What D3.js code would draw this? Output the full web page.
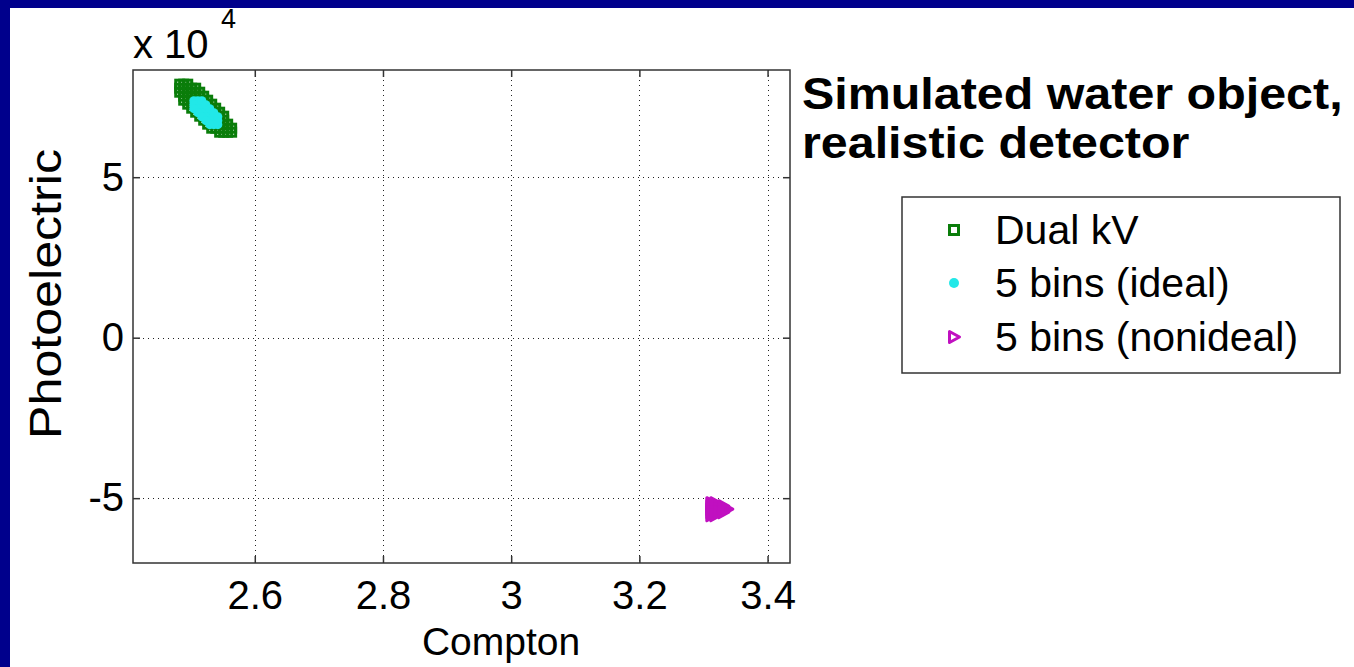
<!DOCTYPE html>
<html>
<head>
<meta charset="utf-8">
<script src="https://cdn.jsdelivr.net/npm/d3@7/dist/d3.min.js"></script>
<style>
  html, body { margin: 0; padding: 0; background: #fff; }
  svg { display: block; }
  text { font-family: "Liberation Sans", Arial, Helvetica, sans-serif; fill: #000; }
</style>
</head>
<body>
<svg id="chart" width="1354" height="667"></svg>
<script>
// Material decomposition estimates: [Compton, Photoelectric (x 10^4)]
const dualKV = [
  [2.4829, 7.898], [2.4891, 7.773], [2.4954, 7.648], [2.5016, 7.524], [2.5078, 7.399], [2.5141, 7.275], [2.5203, 7.15],
  [2.5265, 7.025], [2.5328, 6.901], [2.539, 6.776], [2.5452, 6.652], [2.5515, 6.527], [2.5577, 6.402],
  [2.4891, 7.898], [2.4954, 7.773], [2.5016, 7.648], [2.5078, 7.524], [2.5141, 7.399], [2.5203, 7.275],
  [2.5265, 7.15], [2.5328, 7.025], [2.539, 6.901], [2.5452, 6.776], [2.5515, 6.652], [2.5577, 6.527],
  [2.4829, 7.773], [2.4891, 7.648], [2.4954, 7.524], [2.5016, 7.399], [2.5078, 7.275], [2.5141, 7.15],
  [2.5203, 7.025], [2.5265, 6.901], [2.5328, 6.776], [2.539, 6.652], [2.5452, 6.527], [2.5515, 6.402],
  [2.4954, 7.898], [2.5016, 7.773], [2.5078, 7.648], [2.5141, 7.524], [2.5203, 7.399], [2.5265, 7.275],
  [2.5328, 7.15], [2.539, 7.025], [2.5452, 6.901], [2.5515, 6.776], [2.5577, 6.652],
  [2.4829, 7.648], [2.4891, 7.524], [2.4954, 7.399], [2.5016, 7.275], [2.5078, 7.15], [2.5141, 7.025],
  [2.5203, 6.901], [2.5265, 6.776], [2.5328, 6.652], [2.539, 6.527], [2.5452, 6.402],
  [2.5078, 7.773], [2.5141, 7.648], [2.5203, 7.524], [2.5265, 7.399], [2.5328, 7.275], [2.539, 7.15],
  [2.5452, 7.025], [2.5515, 6.901],
  [2.4891, 7.399], [2.4954, 7.275], [2.5016, 7.15], [2.5078, 7.025], [2.5141, 6.901], [2.5203, 6.776],
  [2.5265, 6.652], [2.5328, 6.527],
  [2.5639, 6.527], [2.5639, 6.402]
];
const binsIdeal = [
  [2.5049, 7.384], [2.5111, 7.259], [2.5174, 7.135], [2.5236, 7.01], [2.5298, 6.885], [2.5361, 6.761], [2.5423, 6.636],
  [2.5111, 7.384], [2.5174, 7.259], [2.5236, 7.135], [2.5298, 7.01], [2.5361, 6.885], [2.5423, 6.761],
  [2.5049, 7.259], [2.5111, 7.135], [2.5174, 7.01], [2.5236, 6.885], [2.5298, 6.761], [2.5361, 6.636],
  [2.5174, 7.384], [2.5236, 7.259], [2.5298, 7.135], [2.5361, 7.01], [2.5423, 6.885],
  [2.5049, 7.135], [2.5111, 7.01], [2.5174, 6.885], [2.5236, 6.761], [2.5298, 6.636]
];
const binsNonideal = [
  [3.3122, -5.156], [3.3122, -5.249], [3.3122, -5.343], [3.3122, -5.436], [3.3122, -5.530],
  [3.3184, -5.156], [3.3184, -5.249], [3.3184, -5.343], [3.3184, -5.436], [3.3184, -5.530],
  [3.3246, -5.249], [3.3246, -5.343], [3.3246, -5.436],
  [3.3309, -5.249], [3.3309, -5.343], [3.3309, -5.436],
  [3.3371, -5.343]
];
const seriesNames = ["Dual kV", "5 bins (ideal)", "5 bins (nonideal)"];
const xTicks = [2.6, 2.8, 3.0, 3.2, 3.4];
const xTickLabels = ["2.6", "2.8", "3", "3.2", "3.4"];
const yTicks = [-5, 0, 5];
const yTickLabels = ["-5", "0", "5"];
const xDomain = [2.41, 3.435];
const yDomain = [-7.02, 8.34];

const svg = d3.select("#chart");
const W = 1354, H = 667;
const plot = { left: 133, right: 790, top: 70, bottom: 563 };

// slide frame
svg.append("rect").attr("x", 0).attr("y", 0).attr("width", W).attr("height", 8).attr("fill", "#00008c");
svg.append("rect").attr("x", 0).attr("y", 0).attr("width", 10).attr("height", H).attr("fill", "#00008c");

const x = d3.scaleLinear().domain(xDomain).range([plot.left, plot.right]);
const y = d3.scaleLinear().domain(yDomain).range([plot.bottom, plot.top]);

const colors = { green: "#0a7d0a", cyan: "#22e8e8", magenta: "#c010c0" };

// dotted grid
const grid = svg.append("g").attr("stroke", "#222").attr("stroke-width", 1).attr("stroke-dasharray", "1,4");
grid.selectAll("line.vx").data(xTicks).join("line")
  .attr("x1", d => Math.round(x(d)) + 0.5).attr("x2", d => Math.round(x(d)) + 0.5)
  .attr("y1", plot.top).attr("y2", plot.bottom);
grid.selectAll("line.hy").data(yTicks).join("line")
  .attr("y1", d => Math.round(y(d)) + 0.5).attr("y2", d => Math.round(y(d)) + 0.5)
  .attr("x1", plot.left).attr("x2", plot.right);

// axes with inward ticks on all four sides
const axB = d3.axisBottom(x).tickValues(xTicks).tickFormat((d, i) => xTickLabels[i]).tickSizeInner(-7).tickSizeOuter(0).tickPadding(18);
const axT = d3.axisTop(x).tickValues(xTicks).tickFormat("").tickSizeInner(-7).tickSizeOuter(0);
const axL = d3.axisLeft(y).tickValues(yTicks).tickFormat((d, i) => yTickLabels[i]).tickSizeInner(-7).tickSizeOuter(0).tickPadding(9);
const axR = d3.axisRight(y).tickValues(yTicks).tickFormat("").tickSizeInner(-7).tickSizeOuter(0);

function styleAxis(g) {
  g.select(".domain").remove();
  g.selectAll(".tick line").attr("stroke", "#333").attr("stroke-width", 1.5);
  g.selectAll(".tick text").attr("font-size", 40).attr("font-family", "Liberation Sans, Arial, sans-serif").attr("fill", "#000");
}
svg.append("g").attr("transform", `translate(0,${plot.bottom})`).call(axB).call(styleAxis);
svg.append("g").attr("transform", `translate(0,${plot.top})`).call(axT).call(styleAxis);
svg.append("g").attr("transform", `translate(${plot.left},0)`).call(axL).call(styleAxis);
svg.append("g").attr("transform", `translate(${plot.right},0)`).call(axR).call(styleAxis);

// axes box
svg.append("rect").attr("x", plot.left).attr("y", plot.top)
  .attr("width", plot.right - plot.left).attr("height", plot.bottom - plot.top)
  .attr("fill", "none").attr("stroke", "#333").attr("stroke-width", 1.5);

// markers
const sq = 8;
const triPath = s => `M${-s * 0.45},${-s * 0.55} L${s * 0.55},0 L${-s * 0.45},${s * 0.55} Z`;

svg.append("g").selectAll("rect").data(dualKV).join("rect")
  .attr("x", d => x(d[0]) - sq / 2).attr("y", d => y(d[1]) - sq / 2)
  .attr("width", sq).attr("height", sq)
  .attr("fill", "none").attr("stroke", colors.green).attr("stroke-width", 3);

svg.append("g").selectAll("circle").data(binsIdeal).join("circle")
  .attr("cx", d => x(d[0])).attr("cy", d => y(d[1])).attr("r", 4.5)
  .attr("fill", colors.cyan);

svg.append("g").selectAll("path").data(binsNonideal).join("path")
  .attr("transform", d => `translate(${x(d[0])},${y(d[1])})`)
  .attr("d", triPath(10))
  .attr("fill", "none").attr("stroke", colors.magenta).attr("stroke-width", 3).attr("stroke-linejoin", "round");

// exponent label
svg.append("text").attr("x", plot.left).attr("y", 58).attr("font-size", 40).text("x 10");
svg.append("text").attr("x", 221).attr("y", 28).attr("font-size", 27).text("4");

// axis titles
svg.append("text").attr("x", 501).attr("y", 655)
  .attr("text-anchor", "middle").attr("font-size", 39).text("Compton");
svg.append("text").attr("transform", `translate(61,294) rotate(-90) scale(1.14,1)`)
  .attr("text-anchor", "middle").attr("font-size", 44).text("Photoelectric");

// title (two lines, slightly widened bold face)
const titleLines = ["Simulated water object,", "realistic detector"];
svg.append("g").attr("transform", "translate(802,0) scale(1.1,1)")
  .selectAll("text").data(titleLines).join("text")
  .attr("x", 0).attr("y", (d, i) => 109 + i * 49)
  .attr("font-size", 44).attr("font-weight", "bold").text(d => d);

// legend
const lg = svg.append("g");
lg.append("rect").attr("x", 902).attr("y", 197).attr("width", 438).attr("height", 176)
  .attr("fill", "#fff").attr("stroke", "#333").attr("stroke-width", 1.5);
const rowY = [230, 283, 337];
const mx = 954, tx = 995;
lg.append("rect").attr("x", mx - 4.5).attr("y", rowY[0] - 4.5).attr("width", 9).attr("height", 9)
  .attr("fill", "none").attr("stroke", colors.green).attr("stroke-width", 3);
lg.append("circle").attr("cx", mx).attr("cy", rowY[1]).attr("r", 5).attr("fill", colors.cyan);
lg.append("path").attr("transform", `translate(${mx},${rowY[2]})`).attr("d", triPath(10))
  .attr("fill", "none").attr("stroke", colors.magenta).attr("stroke-width", 3).attr("stroke-linejoin", "round");
lg.selectAll("text.entry").data(seriesNames).join("text")
  .attr("x", tx).attr("y", (d, i) => rowY[i] + 14).attr("font-size", 41).text(d => d);
</script>
</body>
</html>
